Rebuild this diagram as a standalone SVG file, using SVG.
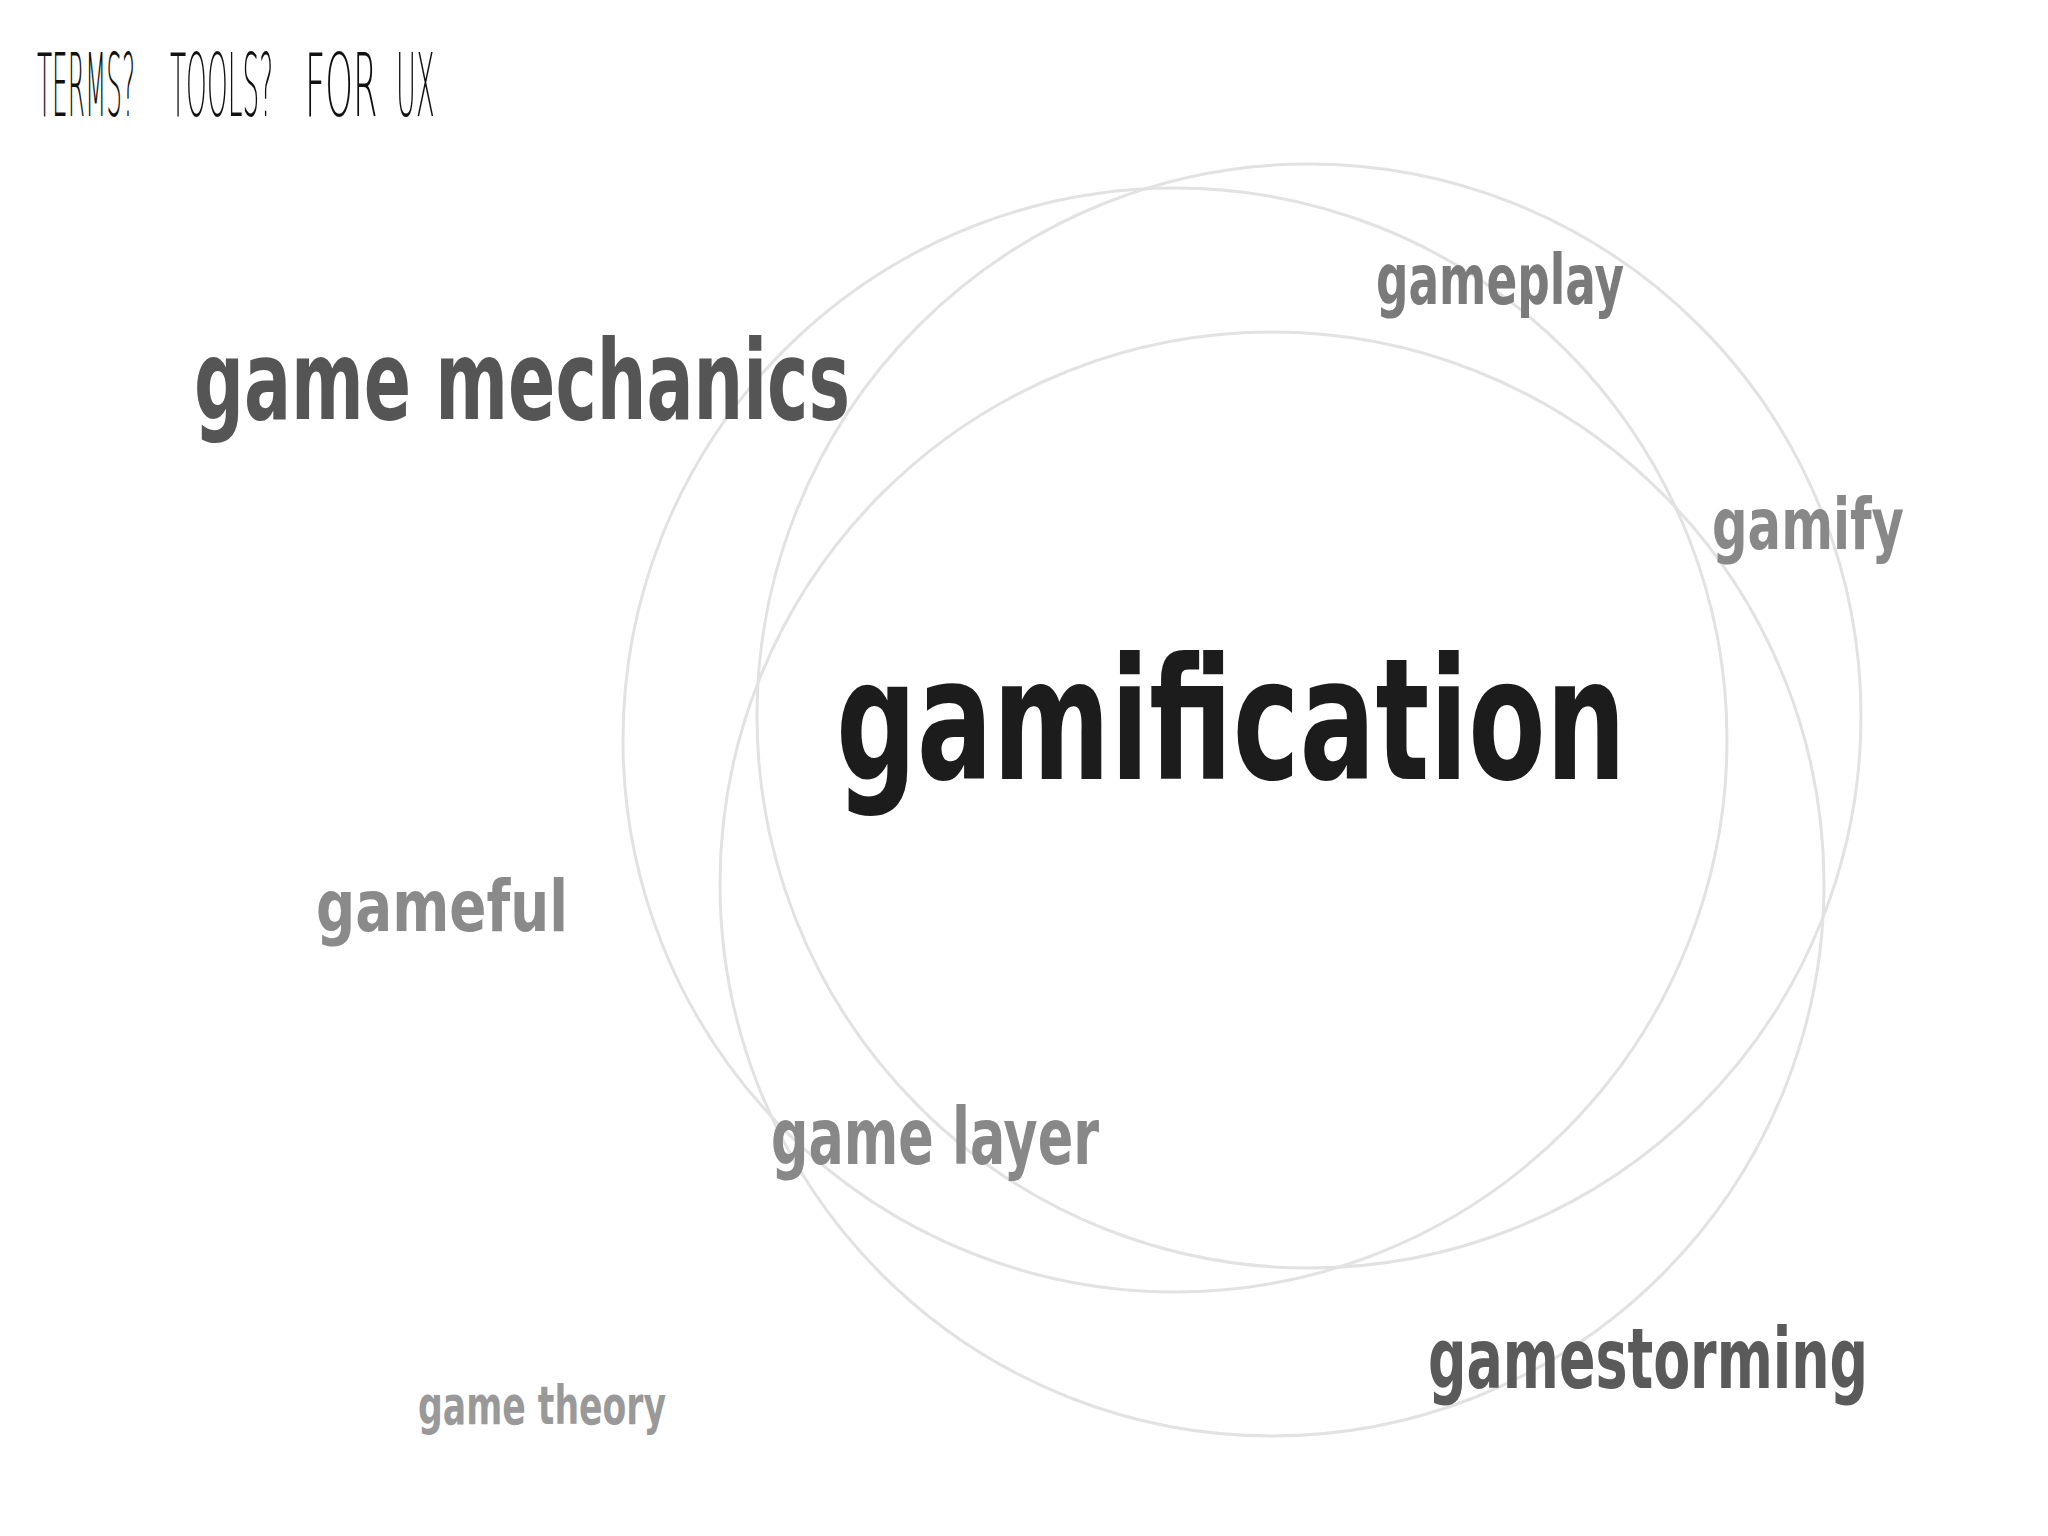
<svg xmlns="http://www.w3.org/2000/svg" width="2048" height="1536" viewBox="0 0 2048 1536">
<style>
.ring{fill:none;stroke:#e2e2e2;stroke-width:3}
.term{font-family:"DejaVu Sans","Liberation Sans",sans-serif;font-weight:bold;}
.title{font-family:"DejaVu Sans","Liberation Sans",sans-serif;font-weight:200;font-size:88px;fill:#111}
</style>
<rect width="2048" height="1536" fill="#ffffff"/>
<g id="circles">
<circle class="ring" cx="1175" cy="740" r="552"/>
<circle class="ring" cx="1309" cy="716" r="552"/>
<circle class="ring" cx="1272" cy="884" r="552"/>
</g>
<g id="title">
<text class="title" transform="translate(37,116) scale(0.281,1)">TERMS?</text>
<text class="title" transform="translate(170,116) scale(0.30,1)">TOOLS?</text>
<text class="title" transform="translate(305,116) scale(0.40,1)">FOR</text>
<text class="title" transform="translate(396,116) scale(0.31,1)">UX</text>
</g>
<g id="node-gamification">
<text class="term" x="836" y="779" font-size="170" fill="#1c1c1c" textLength="790" lengthAdjust="spacingAndGlyphs">gamification</text>
</g>
<g id="node-game-mechanics">
<text class="term" x="194" y="419" font-size="110" fill="#555555" textLength="656" lengthAdjust="spacingAndGlyphs">game mechanics</text>
</g>
<g id="node-gameplay">
<text class="term" x="1376" y="304" font-size="70" fill="#7a7a7a" textLength="248" lengthAdjust="spacingAndGlyphs">gameplay</text>
</g>
<g id="node-gamify">
<text class="term" x="1712" y="549" font-size="72" fill="#888888" textLength="192" lengthAdjust="spacingAndGlyphs">gamify</text>
</g>
<g id="node-gameful">
<text class="term" x="316" y="931" font-size="72" fill="#8a8a8a" textLength="252" lengthAdjust="spacingAndGlyphs">gameful</text>
</g>
<g id="node-game-layer">
<text class="term" x="771" y="1164" font-size="78" fill="#888888" textLength="328" lengthAdjust="spacingAndGlyphs">game layer</text>
</g>
<g id="node-game-theory">
<text class="term" x="418" y="1424" font-size="54" fill="#999999" textLength="248" lengthAdjust="spacingAndGlyphs">game theory</text>
</g>
<g id="node-gamestorming">
<text class="term" transform="translate(1428,1388) scale(0.64,1)" font-size="84" fill="#5a5a5a" textLength="687.5" lengthAdjust="spacingAndGlyphs">gamestorming</text>
</g>
</svg>
